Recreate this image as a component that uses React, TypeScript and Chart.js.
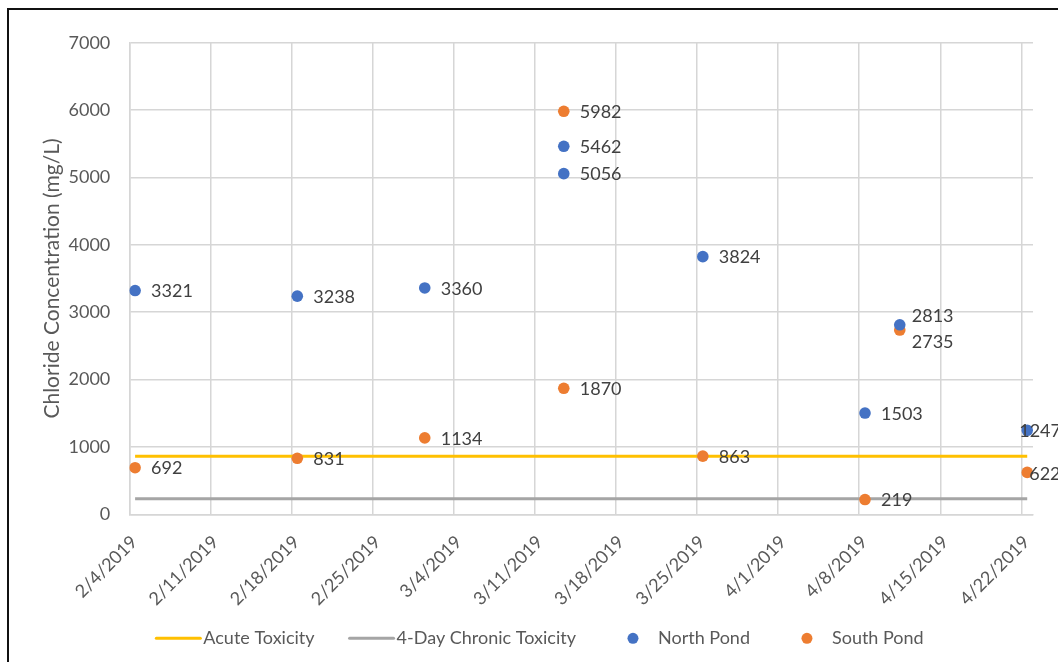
import React, { useEffect, useRef } from 'react';
import { Chart, registerables } from 'chart.js';

Chart.register(...registerables);

// ---- data ---------------------------------------------------------------
const AXIS_START = '2019-02-04';
const AXIS_END = '2019-04-23';

const tickDates = [
  '2019-02-04', '2019-02-11', '2019-02-18', '2019-02-25', '2019-03-04', '2019-03-11',
  '2019-03-18', '2019-03-25', '2019-04-01', '2019-04-08', '2019-04-15', '2019-04-22',
];

const northDates = [
  '2019-02-04', '2019-02-18', '2019-03-01', '2019-03-13', '2019-03-13',
  '2019-03-25', '2019-04-08', '2019-04-11', '2019-04-22',
];
const northValues = [3321, 3238, 3360, 5462, 5056, 3824, 1503, 2813, 1247];

const southDates = [
  '2019-02-04', '2019-02-18', '2019-03-01', '2019-03-13', '2019-03-13',
  '2019-03-25', '2019-04-08', '2019-04-11', '2019-04-22',
];
const southValues = [692, 831, 1134, 5982, 1870, 863, 219, 2735, 622];

const criteriaDates = ['2019-02-04', '2019-04-22'];
const acuteToxicity = 860;
const chronicToxicity = 230;

// ---- styling --------------------------------------------------------------
const FONT = 'Lato, "Open Sans", sans-serif';
const AXIS_TEXT = '#595959';
const LABEL_TEXT = '#404040';
const GRID = '#D6D6D6';
const COLORS = {
  acute: '#FFC000',
  chronic: '#A5A5A5',
  north: '#4472C4',
  south: '#ED7D31',
};

// label nudges (px) for value labels that would otherwise collide
const labelNudges: Record<string, [number, number]> = {
  'North Pond:2813': [-4, -10],
  'South Pond:2735': [-4, 11],
  'North Pond:1247': [-24, 0],
  'South Pond:622': [-14, 1],
};

// ---- helpers --------------------------------------------------------------
const DAY_MS = 86400000;
const dayOf = (iso: string) =>
  (Date.parse(iso + 'T00:00:00Z') - Date.parse(AXIS_START + 'T00:00:00Z')) / DAY_MS;
// date-axis convention: a sample sits in the middle of its day
const midDay = (iso: string) => dayOf(iso) + 0.5;
const fmtDate = (iso: string) => {
  const [y, m, d] = iso.split('-').map(Number);
  return `${m}/${d}/${y}`;
};
const tickLabels = tickDates.map(fmtDate);

const points = (dates: string[], values: number[]) =>
  dates.map((d, i) => ({ x: midDay(d), y: values[i] }));
const flat = (value: number) => criteriaDates.map((d) => ({ x: midDay(d), y: value }));

// ---- plugins --------------------------------------------------------------
const valueLabels = {
  id: 'valueLabels',
  afterDatasetsDraw(chart: any) {
    const { ctx } = chart;
    ctx.save();
    ctx.font = `18px ${FONT}`;
    ctx.fillStyle = LABEL_TEXT;
    ctx.textAlign = 'left';
    ctx.textBaseline = 'middle';
    chart.data.datasets.forEach((ds: any, di: number) => {
      if (!ds.showValues) return;
      const meta = chart.getDatasetMeta(di);
      meta.data.forEach((pt: any, i: number) => {
        const v = ds.data[i].y;
        const [dx, dy] = labelNudges[`${ds.label}:${v}`] || [0, 0];
        ctx.fillText(String(v), pt.x + 16 + dx, pt.y + 1 + dy);
      });
    });
    ctx.restore();
  },
};

const bottomLegend = {
  id: 'bottomLegend',
  afterDraw(chart: any) {
    const { ctx } = chart;
    const SYMBOL = 46;
    const GAP = 2;
    const SPACING = 34;
    ctx.save();
    ctx.font = `18px ${FONT}`;
    const items = chart.data.datasets.map((ds: any) => ({
      text: ds.label,
      color: ds.borderColor,
      isLine: !!ds.showLine,
      width: SYMBOL + GAP + ctx.measureText(ds.label).width,
    }));
    const total = items.reduce((s: number, it: any) => s + it.width, 0) + SPACING * (items.length - 1);
    let x = chart.width / 2 - total / 2;
    const y = chart.chartArea.bottom + 124;
    items.forEach((it: any) => {
      if (it.isLine) {
        ctx.strokeStyle = it.color;
        ctx.lineWidth = 3;
        ctx.lineCap = 'round';
        ctx.beginPath();
        ctx.moveTo(x + 1, y);
        ctx.lineTo(x + SYMBOL - 1, y);
        ctx.stroke();
      } else {
        ctx.fillStyle = it.color;
        ctx.beginPath();
        ctx.arc(x + SYMBOL / 2, y, 5.5, 0, Math.PI * 2);
        ctx.fill();
      }
      ctx.fillStyle = AXIS_TEXT;
      ctx.textAlign = 'left';
      ctx.textBaseline = 'middle';
      ctx.fillText(it.text, x + SYMBOL + GAP, y);
      x += it.width + SPACING;
    });
    ctx.restore();
  },
};

// ---- component ------------------------------------------------------------
export default function App() {
  const canvasRef = useRef<HTMLCanvasElement | null>(null);

  useEffect(() => {
    if (!canvasRef.current) return;
    const tickFont = { family: FONT, size: 18 };
    const chart = new Chart(canvasRef.current, {
      type: 'scatter',
      data: {
        datasets: [
          {
            label: 'Acute Toxicity',
            data: flat(acuteToxicity),
            showLine: true,
            borderColor: COLORS.acute,
            backgroundColor: COLORS.acute,
            borderWidth: 3,
            pointRadius: 0,
            order: 2,
          },
          {
            label: '4-Day Chronic Toxicity',
            data: flat(chronicToxicity),
            showLine: true,
            borderColor: COLORS.chronic,
            backgroundColor: COLORS.chronic,
            borderWidth: 3,
            pointRadius: 0,
            order: 2,
          },
          {
            label: 'North Pond',
            data: points(northDates, northValues),
            borderColor: COLORS.north,
            backgroundColor: COLORS.north,
            pointRadius: 5.8,
            pointBorderWidth: 0,
            showValues: true,
            order: 1,
          } as any,
          {
            label: 'South Pond',
            data: points(southDates, southValues),
            borderColor: COLORS.south,
            backgroundColor: COLORS.south,
            pointRadius: 5.8,
            pointBorderWidth: 0,
            showValues: true,
            order: 1,
          } as any,
        ],
      },
      options: {
        animation: false,
        responsive: false,
        devicePixelRatio: 1,
        layout: { padding: { left: 0, top: 32.7, right: 36, bottom: 0 } },
        plugins: {
          legend: { display: false },
          tooltip: { enabled: false },
        },
        scales: {
          x: {
            type: 'linear',
            min: 0,
            max: dayOf(AXIS_END),
            afterBuildTicks: (scale: any) => {
              scale.ticks = tickDates.map((d) => ({ value: dayOf(d) }));
            },
            afterFit: (scale: any) => {
              scale.height = 185.7;
              scale.paddingLeft = 0;
              scale.paddingRight = 0;
            },
            ticks: {
              autoSkip: false,
              minRotation: 45,
              maxRotation: 45,
              padding: 17,
              labelOffset: 5,
              color: AXIS_TEXT,
              font: tickFont,
              callback: (_v: any, i: number) => tickLabels[i],
            },
            grid: { color: GRID, lineWidth: 1.5, drawTicks: false },
            border: { color: GRID, width: 1.5 },
          },
          y: {
            min: 0,
            max: 7000,
            afterFit: (scale: any) => {
              scale.width = 119.3;
              scale.paddingTop = 0;
              scale.paddingBottom = 0;
            },
            ticks: {
              stepSize: 1000,
              padding: 19,
              color: AXIS_TEXT,
              font: tickFont,
              callback: (v: any) => String(v),
            },
            grid: { color: GRID, lineWidth: 1.5, drawTicks: false },
            border: { color: GRID, width: 1.5 },
            title: {
              display: true,
              text: 'Chloride Concentration (mg/L)',
              color: AXIS_TEXT,
              font: { family: FONT, size: 21 },
              padding: { top: 30, bottom: 0 },
            },
          },
        },
      },
      plugins: [valueLabels, bottomLegend],
    } as any);
    return () => chart.destroy();
  }, []);

  return (
    <div
      style={{
        position: 'fixed',
        left: 0,
        top: 0,
        width: 1058,
        height: 662,
        overflow: 'hidden',
        background: '#fff',
      }}
    >
      <div style={{ position: 'absolute', left: 7, top: 8, width: 1200, height: 2, background: '#111' }} />
      <div style={{ position: 'absolute', left: 7, top: 8, width: 2, height: 800, background: '#111' }} />
      <canvas
        ref={canvasRef}
        width={1059}
        height={690}
        style={{ position: 'absolute', left: 10, top: 10, display: 'block' }}
      />
    </div>
  );
}
